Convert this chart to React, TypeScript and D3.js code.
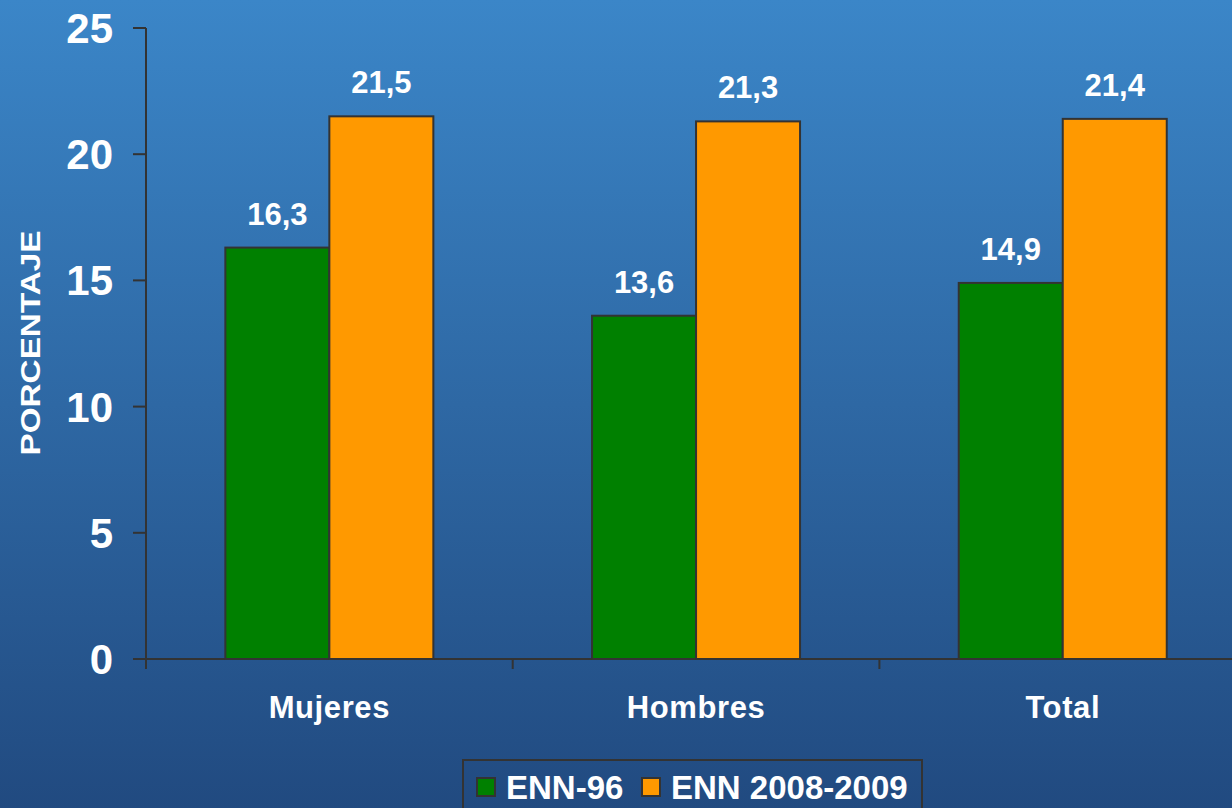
import React from "react";
import * as d3 from "d3";

const categories = ["Mujeres", "Hombres", "Total"];
const seriesNames = ["ENN-96", "ENN 2008-2009"];
const enn96 = [16.3, 13.6, 14.9];
const enn2008 = [21.5, 21.3, 21.4];
const yTicks = [0, 5, 10, 15, 20, 25];
const colors = ["#008000", "#FF9900"];

const W = 1232;
const H = 808;
const x0 = 146;
const catW = 366.7;
const yTop = 28;
const yBot = 659;

export default function App() {
  const x = d3.scaleBand<string>().domain(categories).range([x0, x0 + catW * 3]).paddingInner(0).paddingOuter(0);
  const inner = d3.scaleBand<number>().domain([0, 1]).range([0, 208]);
  const y = d3.scaleLinear().domain([0, 25]).range([yBot, yTop]);
  const series = [enn96, enn2008];
  const font = "Liberation Sans, Arial, sans-serif";
  return (
    <svg width={W} height={H} style={{ position: "absolute", left: 0, top: 0 }} fontFamily={font}>
      <defs>
        <linearGradient id="bg" x1="0" y1="0" x2="0" y2="1">
          <stop offset="0" stopColor="#3b86c8" />
          <stop offset="1" stopColor="#214a80" />
        </linearGradient>
      </defs>
      <rect x={0} y={0} width={W} height={H} fill="url(#bg)" />
      {/* y axis */}
      <line x1={x0} x2={x0} y1={yTop} y2={yBot + 10} stroke="#333" strokeWidth={2} />
      {yTicks.map((t) => (
        <g key={t}>
          <line x1={x0 - 13} x2={x0} y1={y(t)} y2={y(t)} stroke="#333" strokeWidth={2} />
          <text x={113} y={y(t) + 15} textAnchor="end" fill="#fff" fontWeight="bold" fontSize={42}>
            {t}
          </text>
        </g>
      ))}
      <line x1={x0 - 13} x2={W} y1={yBot} y2={yBot} stroke="#333" strokeWidth={2} />
      {categories.map((c, i) => (
        <line key={"t" + i} x1={x(c)! + catW} x2={x(c)! + catW} y1={yBot} y2={yBot + 10} stroke="#333" strokeWidth={2} />
      ))}
      {categories.map((c, i) => {
        const cx = x(c)! + x.bandwidth() / 2;
        return (
          <g key={c}>
            {series.map((s, j) => {
              const bx = cx - 104 + inner(j)!;
              const bw = inner.bandwidth();
              return (
                <g key={j}>
                  <rect x={bx} y={y(s[i])} width={bw} height={yBot - y(s[i])} fill={colors[j]} stroke="#333" strokeWidth={2} />
                  <text x={bx + bw / 2} y={y(s[i]) - 23} textAnchor="middle" fill="#fff" fontWeight="bold" fontSize={31}>
                    {s[i].toFixed(1).replace(".", ",")}
                  </text>
                </g>
              );
            })}
            <text x={cx} y={718} textAnchor="middle" fill="#fff" fontWeight="bold" fontSize={31}
              style={{ letterSpacing: "0.6px" }}>
              {c}
            </text>
          </g>
        );
      })}
      <text transform="translate(40,343) rotate(-90)" textAnchor="middle" fill="#fff" fontWeight="bold" fontSize={27}
        textLength={225} lengthAdjust="spacingAndGlyphs">
        PORCENTAJE
      </text>
      {/* legend */}
      <rect x={463} y={760} width={459} height={60} fill="none" stroke="#333" strokeWidth={2} />
      {seriesNames.map((n, j) => {
        const lx = j === 0 ? 477 : 642;
        return (
          <g key={n}>
            <rect x={lx} y={778} width={18} height={18} fill={colors[j]} stroke="#333" strokeWidth={2} />
            <text x={lx + 29} y={799} fill="#fff" fontWeight="bold" fontSize={33}>
              {n}
            </text>
          </g>
        );
      })}
    </svg>
  );
}
